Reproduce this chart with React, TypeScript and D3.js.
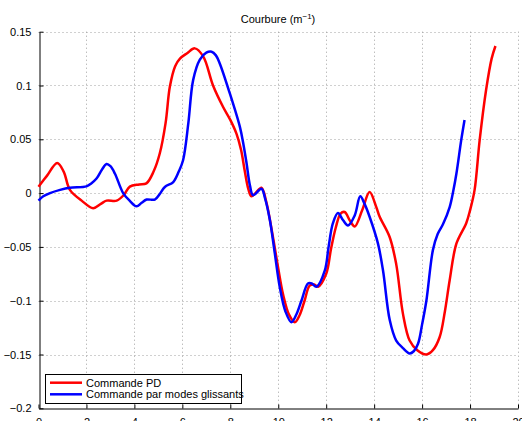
import { useEffect, useRef } from "react";
import * as d3 from "d3";

const WIDTH = 522;
const HEIGHT = 421;

const xTicks = [0, 2, 4, 6, 8, 10, 12, 14, 16, 18, 20];
const yTicks = [-0.2, -0.15, -0.1, -0.05, 0, 0.05, 0.1, 0.15];

const legendLabels = ["Commande PD", "Commande par modes glissants"];

// Commande PD (red)
const pdX = [
  0, 0.35, 0.78, 1.05, 1.31, 1.8, 2.28, 2.6, 2.84, 3.26, 3.55, 3.81, 4.2, 4.5, 4.8, 5.06, 5.3, 5.48, 5.7, 5.9, 6.2,
  6.52, 6.87, 7.28, 7.7, 8.0, 8.26, 8.45, 8.6, 8.75, 8.88, 9.05, 9.3, 9.5, 9.78, 10.0, 10.2, 10.45, 10.69, 10.9,
  11.1, 11.31, 11.5, 11.66, 12.0, 12.2, 12.4, 12.6, 12.77, 13.0, 13.19, 13.5, 13.81, 14.09, 14.23, 14.65, 14.92,
  15.2, 15.48, 15.8, 16.18, 16.45, 16.73, 16.95, 17.15, 17.43, 17.84, 18.0, 18.19, 18.4, 18.67, 18.9, 19.06,
];
const pdY = [
  0.006, 0.016, 0.028, 0.02, 0.003, -0.007, -0.014, -0.01, -0.007, -0.007, -0.002, 0.006, 0.008, 0.009, 0.02, 0.037,
  0.065, 0.099, 0.118, 0.125, 0.13, 0.1345, 0.127, 0.1, 0.08, 0.068, 0.055, 0.04, 0.021, 0.004, -0.003, 0.0, 0.005,
  -0.008, -0.041, -0.07, -0.094, -0.113, -0.12, -0.113, -0.0998, -0.086, -0.085, -0.087, -0.075, -0.052, -0.032,
  -0.019, -0.0176, -0.026, -0.031, -0.016, 0.001, -0.013, -0.022, -0.041, -0.066, -0.112, -0.137, -0.146, -0.15,
  -0.146, -0.134, -0.11, -0.081, -0.047, -0.028, -0.016, 0.003, 0.049, 0.096, 0.125, 0.1367,
];

// Commande par modes glissants (blue)
const smcX = [
  0, 0.2, 0.48, 0.9, 1.31, 2.0, 2.2, 2.42, 2.65, 2.84, 3.0, 3.19, 3.53, 3.8, 4.09, 4.3, 4.51, 4.85, 5.05, 5.27, 5.62,
  5.85, 6.03, 6.25, 6.45, 6.73, 7.0, 7.22, 7.4, 7.56, 7.98, 8.4, 8.55, 8.68, 8.82, 8.95, 9.3, 9.45, 9.65, 9.85, 10.06,
  10.3, 10.55, 10.75, 10.97, 11.24, 11.4, 11.59, 11.94, 12.1, 12.28, 12.49, 12.7, 12.91, 13.19, 13.42, 13.6, 13.81,
  14.16, 14.37, 14.65, 14.92, 15.2, 15.48, 15.65, 15.83, 16.0, 16.18, 16.45, 16.65, 16.87, 17.15, 17.3, 17.43, 17.63,
  17.77,
];
const smcY = [
  -0.007, -0.003, 0.0, 0.003, 0.005, 0.0063, 0.009, 0.0135, 0.022, 0.027, 0.025, 0.018, 0.0, -0.007, -0.0123, -0.009,
  -0.006, -0.006, -0.001, 0.0057, 0.0103, 0.02, 0.0305, 0.065, 0.105, 0.124, 0.1305, 0.1314, 0.128, 0.1205, 0.0926,
  0.0615, 0.045, 0.0275, 0.007, -0.002, 0.004, -0.005, -0.025, -0.055, -0.087, -0.11, -0.12, -0.113, -0.0998, -0.084,
  -0.084, -0.087, -0.072, -0.05, -0.028, -0.0185, -0.025, -0.03, -0.0207, -0.003, -0.01, -0.022, -0.047, -0.072,
  -0.118, -0.137, -0.144, -0.149, -0.147, -0.14, -0.122, -0.0998, -0.053, -0.038, -0.029, -0.013, 0.002, 0.018,
  0.049, 0.068,
];

const colors = {
  PD: "#ff0000",
  SMC: "#0000ff",
  GRID: "#a0a0a0",
  AXIS: "#000000",
};

const FONT = "'Liberation Sans', Arial, Helvetica, sans-serif";

export default function App() {
  const ref = useRef<SVGSVGElement | null>(null);

  useEffect(() => {
    const svg = d3.select(ref.current);
    svg.selectAll("*").remove();

    const left = 38.5;
    const right = 518;
    const top = 31.7;
    const bottom = 408.3;

    const x = d3.scaleLinear().domain([0, 20]).range([left, right]);
    const y = d3.scaleLinear().domain([-0.2, 0.15]).range([bottom, top]);

    // dotted grid
    const grid = svg.append("g");
    xTicks
      .filter((t) => t > 0)
      .forEach((t) => {
        grid
          .append("line")
          .attr("x1", Math.round(x(t)) + 0.5)
          .attr("x2", Math.round(x(t)) + 0.5)
          .attr("y1", top)
          .attr("y2", bottom)
          .style("stroke", colors.GRID)
          .style("stroke-width", 1)
          .style("stroke-dasharray", "1,3");
      });
    yTicks
      .filter((t) => t > -0.2)
      .forEach((t) => {
        grid
          .append("line")
          .attr("x1", left)
          .attr("x2", right)
          .attr("y1", Math.round(y(t)) + 0.5)
          .attr("y2", Math.round(y(t)) + 0.5)
          .style("stroke", colors.GRID)
          .style("stroke-width", 1)
          .style("stroke-dasharray", "1,3");
      });

    // x axis
    const xAxis = svg
      .append("g")
      .attr("transform", `translate(0,${Math.round(bottom) + 0.5})`)
      .call(
        d3
          .axisBottom(x)
          .tickValues(xTicks)
          .tickSizeInner(-4)
          .tickSizeOuter(0)
          .tickPadding(10)
          .tickFormat((d) => String(d))
      );
    xAxis.select(".domain").attr("stroke", colors.AXIS);
    xAxis.selectAll("text").attr("font-family", FONT).attr("font-size", 11).attr("fill", "#000");

    // y axis
    const yAxis = svg
      .append("g")
      .attr("transform", `translate(${Math.round(left) + 0.5},0)`)
      .call(
        d3
          .axisLeft(y)
          .tickValues(yTicks)
          .tickSizeInner(-4)
          .tickSizeOuter(0)
          .tickPadding(8)
          .tickFormat((d) => {
            const v = +d;
            if (v === 0) return "0";
            return String(v).replace("-", "\u2212");
          })
      );
    yAxis.select(".domain").attr("stroke", colors.AXIS);
    yAxis.selectAll("text").attr("font-family", FONT).attr("font-size", 11).attr("fill", "#000");

    // curves
    const line = d3
      .line<[number, number]>()
      .x((d) => x(d[0]))
      .y((d) => y(d[1]))
      .curve(d3.curveCatmullRom.alpha(0.5));

    const series = [
      { xs: pdX, ys: pdY, color: colors.PD },
      { xs: smcX, ys: smcY, color: colors.SMC },
    ];
    series.forEach((s) => {
      const pts = s.xs.map((v, i) => [v, s.ys[i]] as [number, number]);
      svg
        .append("path")
        .datum(pts)
        .attr("d", line)
        .style("fill", "none")
        .style("stroke", s.color)
        .style("stroke-width", 2.5)
        .style("stroke-linejoin", "round");
    });

    // title
    const title = svg
      .append("text")
      .attr("x", 278)
      .attr("y", 23)
      .attr("text-anchor", "middle")
      .attr("font-family", FONT)
      .attr("font-size", 11)
      .attr("fill", "#000");
    title.append("tspan").text("Courbure (m");
    title.append("tspan").attr("dy", -4).attr("font-size", 8).text("\u22121");
    title.append("tspan").attr("dy", 4).text(")");

    // legend
    const legend = svg.append("g");
    legend
      .append("rect")
      .attr("x", 45.5)
      .attr("y", 374.5)
      .attr("width", 196)
      .attr("height", 29)
      .style("fill", "#fff")
      .style("stroke", "#000")
      .style("stroke-width", 1);
    [colors.PD, colors.SMC].forEach((c, i) => {
      const ly = 382.7 + i * 11.6;
      legend
        .append("line")
        .attr("x1", 50)
        .attr("x2", 82)
        .attr("y1", ly)
        .attr("y2", ly)
        .style("stroke", c)
        .style("stroke-width", 2.5);
      legend
        .append("text")
        .attr("x", 86)
        .attr("y", ly + 4)
        .attr("font-family", FONT)
        .attr("font-size", 11)
        .attr("fill", "#000")
        .text(legendLabels[i]);
    });
  }, []);

  return (
    <svg
      ref={ref}
      width={WIDTH}
      height={HEIGHT}
      style={{ position: "absolute", left: 0, top: 0, background: "#fff" }}
    />
  );
}
